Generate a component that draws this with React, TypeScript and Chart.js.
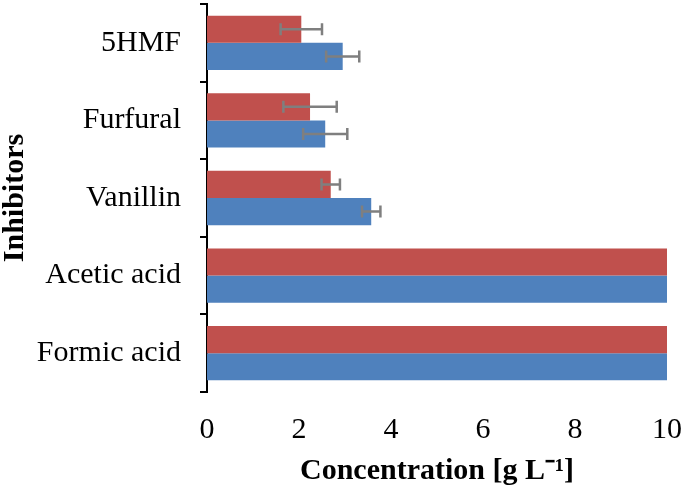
import React, { useEffect, useRef } from "react";
import { Chart, registerables } from "chart.js";

Chart.register(...registerables);

const categories = ["5HMF", "Furfural", "Vanillin", "Acetic acid", "Formic acid"];
const redValues = [2.05, 2.24, 2.69, 10, 10];
const redErrors = [0.45, 0.58, 0.2, 0, 0];
const blueValues = [2.95, 2.57, 3.57, 10, 10];
const blueErrors = [0.36, 0.48, 0.2, 0, 0];
const xTicks = [0, 2, 4, 6, 8, 10];

const errorBarPlugin = {
  id: "errorBars",
  afterDatasetsDraw(chart: any) {
    const ctx = chart.ctx;
    const xScale = chart.scales.x;
    chart.data.datasets.forEach((ds: any, di: number) => {
      const meta = chart.getDatasetMeta(di);
      const errs: number[] = ds.errors || [];
      meta.data.forEach((bar: any, i: number) => {
        const e = errs[i];
        if (!e) return;
        const v = ds.data[i];
        const x1 = xScale.getPixelForValue(v - e);
        const x2 = xScale.getPixelForValue(v + e);
        const y = bar.y;
        const cap = 6;
        ctx.save();
        ctx.strokeStyle = "#7f7f7f";
        ctx.lineWidth = 2.5;
        ctx.beginPath();
        ctx.moveTo(x1, y);
        ctx.lineTo(x2, y);
        ctx.moveTo(x1, y - cap);
        ctx.lineTo(x1, y + cap);
        ctx.moveTo(x2, y - cap);
        ctx.lineTo(x2, y + cap);
        ctx.stroke();
        ctx.restore();
      });
    });
  },
};

export default function App() {
  const ref = useRef<HTMLCanvasElement>(null);
  useEffect(() => {
    document.body.style.margin = "0";
    const chart = new Chart(ref.current!, {
      type: "bar",
      data: {
        labels: categories,
        datasets: [
          {
            label: "A",
            data: redValues,
            errors: redErrors,
            backgroundColor: "#c0504d",
            borderColor: "#c0504d",
            borderWidth: 0,
            categoryPercentage: 0.7,
            barPercentage: 1,
          } as any,
          {
            label: "B",
            data: blueValues,
            errors: blueErrors,
            backgroundColor: "#4f81bd",
            borderColor: "#4f81bd",
            borderWidth: 0,
            categoryPercentage: 0.7,
            barPercentage: 1,
          } as any,
        ],
      },
      options: {
        indexAxis: "y",
        animation: false,
        responsive: false,
        maintainAspectRatio: false,
        layout: { padding: { top: 4, right: 18, left: 0, bottom: 0 } },
        plugins: { legend: { display: false }, tooltip: { enabled: false } },
        scales: {
          x: {
            min: 0,
            max: 10,
            afterBuildTicks: (scale: any) => {
              scale.ticks = xTicks.map((v) => ({ value: v }));
            },
            grid: { display: false },
            border: { display: false },
            ticks: {
              color: "#000",
              padding: 12,
              maxRotation: 0,
              font: { family: "Liberation Serif", size: 30, lineHeight: 1.2 },
            },
            title: {
              display: true,
              text: "Concentration [g L\u207B\u00B9]",
              color: "#000",
              font: { family: "Liberation Serif", size: 30, weight: "bold", lineHeight: 1.1 },
              padding: { top: 0, bottom: 0 },
            },
            afterFit: (scale: any) => {
              scale.height = 96;
              scale.paddingLeft = 0;
              scale.paddingRight = 0;
            },
          },
          y: {
            grid: {
              display: true,
              drawOnChartArea: false,
              drawTicks: true,
              tickLength: 7,
              color: "#000",
              lineWidth: 2,
              offset: true,
            },
            border: { display: true, color: "#000", width: 2 },
            ticks: {
              color: "#000",
              padding: 19,
              font: { family: "Liberation Serif", size: 30 },
            },
            title: {
              display: true,
              text: "Inhibitors",
              color: "#000",
              font: { family: "Liberation Serif", size: 30, weight: "bold", lineHeight: 1.0 },
              padding: { top: 0, bottom: 0 },
            },
            afterFit: (scale: any) => {
              scale.width = 207;
              scale.paddingTop = 0;
              scale.paddingBottom = 0;
            },
          },
        },
      },
      plugins: [errorBarPlugin],
    });
    return () => chart.destroy();
  }, []);
  return <canvas ref={ref} width={685} height={488} />;
}
